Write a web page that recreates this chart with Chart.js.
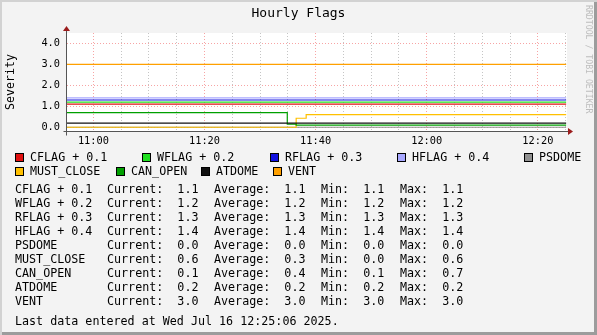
<!DOCTYPE html>
<html>
<head>
<meta charset="utf-8">
<title>Hourly Flags</title>
<script src="https://cdn.jsdelivr.net/npm/chart.js"></script>
<style>
  body { margin: 0; }
  #graph { position: relative; width: 597px; height: 335px; background: #f3f3f3;
    box-shadow: inset 2px 2px 0 #d2d2d2, inset -3px -3px 0 #9c9c9c;
    font-family: "DejaVu Sans Mono", monospace; color: #000; overflow: hidden; }
  #graph canvas { position: absolute; left: 0; top: 0; }
  .t { position: absolute; white-space: pre; }
  #title { left: 0; width: 597px; top: 5px; text-align: center; font-size: 13px; line-height: 16px; }
  #mark { left: 584px; top: 5px; font-size: 8.2px; color: #bdbdbd; writing-mode: vertical-rl; letter-spacing: 0; }
  .leg, .st { font-size: 11.7px; line-height: 14px; }
  .leg i { position: absolute; left: -15px; top: 3px; width: 7px; height: 7px; border: 1px solid #000; }
</style>
</head>
<body>
<div id="graph">
  <canvas id="myChart" width="597" height="335"></canvas>
  <div class="t" id="title">Hourly Flags</div>
  <div class="t" id="mark">RRDTOOL / TOBI OETIKER</div>
</div>

<script>
// series, in rrdtool drawing order
var seriesNames = ['CFLAG + 0.1', 'WFLAG + 0.2', 'RFLAG + 0.3', 'HFLAG + 0.4', 'PSDOME',
                   'MUST_CLOSE', 'CAN_OPEN', 'ATDOME', 'VENT'];
var seriesColors = ['#e01010', '#20e020', '#1010e0', '#a8a8ff', '#909090',
                    '#ffc000', '#00a000', '#111111', '#ffa000'];

// times where a value changes, minutes after midnight (10:55 .. 12:25)
var stepTimes = [655.25, 694.9, 696.5, 698.3, 745.1];
var cflag     = [1.1, 1.1, 1.1, 1.1, 1.1];
var wflag     = [1.2, 1.2, 1.2, 1.2, 1.2];
var rflag     = [1.3, 1.3, 1.3, 1.3, 1.3];
var hflag     = [1.4, 1.4, 1.4, 1.4, 1.4];
var psdome    = [0, 0, 0, 0, 0];
var mustClose = [0, 0, 0.43, 0.6, 0.6];
var canOpen   = [0.7, 0.15, 0.1, 0.1, 0.1];
var atdome    = [0.2, 0.2, 0.2, 0.2, 0.2];
var vent      = [3, 3, 3, 3, 3];

// axis ticks
var xMin = 655.25, xMax = 745.25;
var xMajor = [660, 680, 700, 720, 740];
var yMin = -0.18, yMax = 4.5;
var yMajor = [0, 1, 2, 3, 4];

// printed statistics
var curVals = ['1.1', '1.2', '1.3', '1.4', '0.0', '0.6', '0.1', '0.2', '3.0'];
var avgVals = ['1.1', '1.2', '1.3', '1.4', '0.0', '0.3', '0.4', '0.2', '3.0'];
var minVals = ['1.1', '1.2', '1.3', '1.4', '0.0', '0.0', '0.1', '0.2', '3.0'];
var maxVals = ['1.1', '1.2', '1.3', '1.4', '0.0', '0.6', '0.7', '0.2', '3.0'];
var lastUpdate = 'Last data entered at Wed Jul 16 12:25:06 2025.';

var allSeries = [cflag, wflag, rflag, hflag, psdome, mustClose, canOpen, atdome, vent];

// legend + stats as text under the plot
var graph = document.getElementById('graph');
function addText(cls, txt, left, topPx, color) {
  var d = document.createElement('div');
  d.className = 't ' + cls;
  d.style.left = left + 'px';
  d.style.top = topPx + 'px';
  d.textContent = txt;
  if (color) {
    var box = document.createElement('i');
    box.style.background = color;
    d.appendChild(box);
  }
  graph.appendChild(d);
}
var legendPos = [[30, 150], [157, 150], [285, 150], [412, 150], [539, 150],
                 [30, 164], [131, 164], [216, 164], [288, 164]];
for (var i = 0; i < seriesNames.length; i++) {
  addText('leg', seriesNames[i], legendPos[i][0], legendPos[i][1], seriesColors[i]);
}
for (var i = 0; i < seriesNames.length; i++) {
  var rowTop = 182 + i * 14;
  addText('st', seriesNames[i], 15, rowTop);
  addText('st', 'Current:  ' + curVals[i], 107, rowTop);
  addText('st', 'Average:  ' + avgVals[i], 214, rowTop);
  addText('st', 'Min:  ' + minVals[i], 321, rowTop);
  addText('st', 'Max:  ' + maxVals[i], 400, rowTop);
}
addText('st', lastUpdate, 15, 314);

function hhmm(v) {
  var h = Math.floor(v / 60), m = Math.round(v % 60);
  return (h < 10 ? '0' : '') + h + ':' + (m < 10 ? '0' : '') + m;
}

// white plot area, rrdtool style axes with arrows
var rrdFrame = {
  id: 'rrdFrame',
  beforeDraw: function(chart) {
    var a = chart.chartArea, c = chart.ctx;
    c.save();
    c.fillStyle = '#ffffff';
    c.fillRect(a.left, a.top, a.right - a.left, a.bottom - a.top);
    c.restore();
  },
  afterDraw: function(chart) {
    var a = chart.chartArea, c = chart.ctx;
    var x0 = Math.round(a.left) - 0.5, y0 = Math.round(a.bottom) + 0.5;
    c.save();
    c.strokeStyle = '#555555';
    c.lineWidth = 1;
    c.beginPath();
    c.moveTo(x0, a.top - 5); c.lineTo(x0, y0 + 4);
    c.moveTo(x0 - 3, y0); c.lineTo(a.right + 3, y0);
    c.stroke();
    c.fillStyle = '#9b1c1c';
    c.beginPath();
    c.moveTo(x0 - 3.5, a.top - 2); c.lineTo(x0 + 3.5, a.top - 2); c.lineTo(x0, a.top - 7);
    c.closePath(); c.fill();
    c.beginPath();
    c.moveTo(a.right + 1, y0 - 3.5); c.lineTo(a.right + 1, y0 + 3.5); c.lineTo(a.right + 6, y0);
    c.closePath(); c.fill();
    c.restore();
  }
};

var datasets = allSeries.map(function(vals, i) {
  return {
    label: seriesNames[i],
    data: stepTimes.map(function(t, j) { return { x: t, y: vals[j] }; }),
    borderColor: seriesColors[i],
    borderWidth: 1.2,
    pointRadius: 0,
    stepped: 'before',
    fill: false,
    order: allSeries.length - 1 - i
  };
});

var ctx = document.getElementById('myChart').getContext('2d');
var myChart = new Chart(ctx, {
  type: 'line',
  data: { datasets: datasets },
  plugins: [rrdFrame],
  options: {
    responsive: false,
    animation: false,
    events: [],
    layout: { padding: { top: 33, left: 0, right: 30, bottom: 184 } },
    plugins: { legend: { display: false }, tooltip: { enabled: false } },
    scales: {
      x: {
        type: 'linear',
        min: xMin, max: xMax,
        afterBuildTicks: function(scale) {
          var t = [];
          for (var v = Math.ceil(xMin / 5) * 5; v <= xMax; v += 5) t.push({ value: v });
          scale.ticks = t;
        },
        afterFit: function(scale) { scale.height = 20; },
        grid: {
          drawTicks: false,
          lineWidth: 1,
          color: function(c) { return xMajor.indexOf(c.tick && c.tick.value) >= 0 ? 'rgba(240,90,90,0.55)' : 'rgba(150,150,150,0.55)'; }
        },
        border: { display: false, dash: [1, 2] },
        ticks: {
          autoSkip: false, maxRotation: 0, padding: 4,
          color: '#000',
          font: { family: 'DejaVu Sans Mono', size: 10.3 },
          callback: function(v) { return xMajor.indexOf(v) >= 0 ? hhmm(v) : ''; }
        }
      },
      y: {
        min: yMin, max: yMax,
        afterBuildTicks: function(scale) {
          var t = [];
          for (var v = 0; v <= yMax + 0.001; v += 0.5) t.push({ value: v });
          scale.ticks = t;
        },
        afterFit: function(scale) { scale.width = 67; },
        grid: {
          drawTicks: false,
          lineWidth: 1,
          color: function(c) { return yMajor.indexOf(c.tick && c.tick.value) >= 0 ? 'rgba(240,90,90,0.55)' : 'rgba(150,150,150,0.55)'; }
        },
        border: { display: false, dash: [1, 2] },
        title: {
          display: true, text: 'Severity', color: '#000',
          font: { family: 'DejaVu Sans Mono', size: 11.6 },
          padding: { top: 4, bottom: 0 }
        },
        ticks: {
          padding: 7, color: '#000',
          font: { family: 'DejaVu Sans Mono', size: 10.3 },
          callback: function(v) { return yMajor.indexOf(v) >= 0 ? v.toFixed(1) : ''; }
        }
      }
    }
  }
});
</script>
</body>
</html>
